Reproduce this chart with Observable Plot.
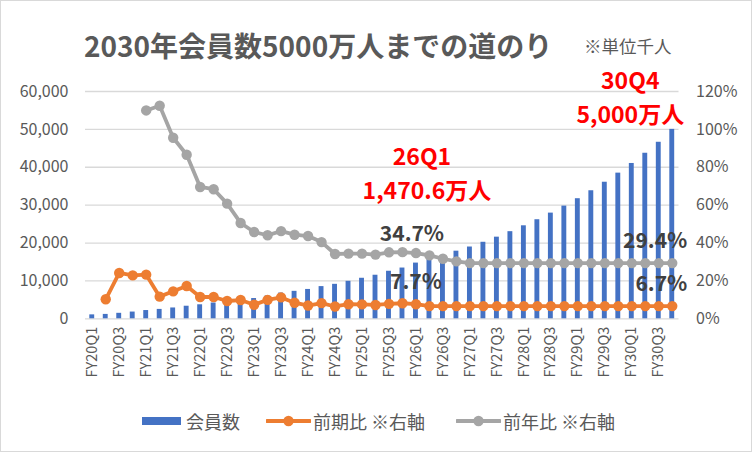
<!DOCTYPE html>
<html>
<head>
<meta charset="utf-8">
<script src="https://cdn.jsdelivr.net/npm/d3@7"></script>
<script src="https://cdn.jsdelivr.net/npm/@observablehq/plot@0.6"></script>
<style>
  html, body { margin: 0; padding: 0; background: #fff; }
  body { font-family: "Noto Sans CJK JP", "Noto Sans", sans-serif; }
  #wrap { position: relative; width: 752px; height: 452px; overflow: hidden; background: #fff; }
  #frame { position: absolute; left: 0; top: 0; width: 752px; height: 452px; box-sizing: border-box; border: 1px solid #d9d9d9; pointer-events: none; }
  #chart { position: absolute; left: 0; top: 0; }
  .title { position: absolute; top: 28px; left: 84px; font-size: 28px; font-weight: bold; color: #595959; line-height: 34px; white-space: nowrap; }
  .unit { position: absolute; top: 33px; left: 584px; font-size: 17.5px; color: #595959; line-height: 26px; white-space: nowrap; }
  .leg { position: absolute; font-size: 18px; color: #595959; line-height: 22px; top: 410px; white-space: nowrap; }
  .key { position: absolute; }
</style>
</head>
<body>
<div id="wrap">
  <div class="title">2030年会員数5000万人までの道のり</div>
  <div class="unit">※単位千人</div>
  <div id="chart"></div>
  <div id="legend"></div>
  <div id="frame"></div>
</div>
<script>
// ---- data (会員数 in 千人, ratios in %) ----
const quarters = [
  "FY20Q1","FY20Q2","FY20Q3","FY20Q4",
  "FY21Q1","FY21Q2","FY21Q3","FY21Q4",
  "FY22Q1","FY22Q2","FY22Q3","FY22Q4",
  "FY23Q1","FY23Q2","FY23Q3","FY23Q4",
  "FY24Q1","FY24Q2","FY24Q3","FY24Q4",
  "FY25Q1","FY25Q2","FY25Q3","FY25Q4",
  "FY26Q1","FY26Q2","FY26Q3","FY26Q4",
  "FY27Q1","FY27Q2","FY27Q3","FY27Q4",
  "FY28Q1","FY28Q2","FY28Q3","FY28Q4",
  "FY29Q1","FY29Q2","FY29Q3","FY29Q4",
  "FY30Q1","FY30Q2","FY30Q3","FY30Q4"
];
const members = [
  1040, 1160, 1450, 1780,
  2180, 2480, 2860, 3320,
  3700, 4170, 4600, 5000,
  5350, 6050, 6800, 7250,
  7750, 8500, 9100, 9900,
  10700, 11500, 12550, 13400,
  14706, 15700, 16750, 17850,
  18950, 20200, 21550, 23000,
  24550, 26150, 27900, 29750,
  31700, 33800, 36050, 38450,
  41000, 43700, 46600, 50000
];
const qoq = [
  null, 10.3, 24.2, 22.9,
  23.3, 11.7, 14.5, 17.3,
  11.5, 11.5, 9.4, 9.9,
  7.4, 10.0, 11.3, 8.5,
  7.0, 8.3, 6.5, 7.7,
  7.6, 7.3, 7.9, 8.2,
  7.7, 6.7, 6.7, 6.7,
  6.7, 6.7, 6.7, 6.7,
  6.7, 6.7, 6.7, 6.7,
  6.7, 6.7, 6.7, 6.7,
  6.7, 6.7, 6.7, 6.7
];
const yoy = [
  null, null, null, null,
  110.0, 112.5, 95.6, 86.6,
  69.6, 68.4, 60.8, 50.6,
  45.8, 44.1, 46.3, 44.4,
  43.7, 40.5, 34.2, 34.4,
  34.4, 33.9, 35.1, 35.2,
  34.7, 33.5, 31.7, 30.3,
  29.4, 29.4, 29.4, 29.4,
  29.4, 29.4, 29.4, 29.4,
  29.4, 29.4, 29.4, 29.4,
  29.4, 29.4, 29.4, 29.4
];
const xTickLabels = [
  "FY20Q1","FY20Q3","FY21Q1","FY21Q3","FY22Q1","FY22Q3","FY23Q1","FY23Q3",
  "FY24Q1","FY24Q3","FY25Q1","FY25Q3","FY26Q1","FY26Q3","FY27Q1","FY27Q3",
  "FY28Q1","FY28Q3","FY29Q1","FY29Q3","FY30Q1","FY30Q3"
];
const leftTicks = [0, 10000, 20000, 30000, 40000, 50000, 60000];
const rightTicks = [0, 20, 40, 60, 80, 100, 120];
const seriesNames = ["会員数", "前期比 ※右軸", "前年比 ※右軸"];
const milestoneQuarter = "FY26Q1";
const milestoneTexts = ["26Q1", "1,470.6万人"];
const goalQuarter = "FY30Q4";
const goalTexts = ["30Q4", "5,000万人"];

// ---- build ----
const K = 500; // right-axis 1% == 500 on the left scale (120% ↔ 60,000)
const rows = quarters.map((q, i) => ({q, members: members[i], qoq: qoq[i], yoy: yoy[i]}));
const qoqRows = rows.filter(d => d.qoq != null);
const yoyRows = rows.filter(d => d.yoy != null);
const milestone = rows.filter(d => d.q === milestoneQuarter);
const goal = rows.filter(d => d.q === goalQuarter);

const BLUE = "#4472C4", ORANGE = "#ED7D31", GRAY = "#A5A5A5", RED = "#FF0000", DARK = "#404040";
const FONT = '"Noto Sans CJK JP", "Noto Sans", sans-serif';

const chart = Plot.plot({
  width: 752,
  height: 452,
  marginTop: 91,
  marginBottom: 133.7,
  marginLeft: 85,
  marginRight: 73.5,
  x: {type: "band", domain: quarters, padding: 0, round: false},
  y: {domain: [0, 60000]},
  style: {fontFamily: FONT, fontSize: "16px", color: "#595959", background: "transparent", overflow: "visible"},
  marks: [
    Plot.gridY(leftTicks, {stroke: "#d9d9d9", strokeOpacity: 1, strokeWidth: 1.3}),
    Plot.axisY(leftTicks, {anchor: "left", tickSize: 0, tickPadding: 17, tickFormat: d3.format(","), label: null, fontSize: 16}),
    Plot.axisY(rightTicks.map(p => p * K), {anchor: "right", tickSize: 0, tickPadding: 17, tickFormat: d => (d / K) + "%", label: null, fontSize: 16}),
    Plot.axisX(xTickLabels, {tickRotate: -90, tickSize: 0, tickPadding: 8, label: null, fontSize: 14.5}),
    Plot.barY(rows, {x: "q", y: "members", fill: BLUE, insetLeft: 4.3, insetRight: 4.3}),
    Plot.line(qoqRows, {x: "q", y: d => d.qoq * K, stroke: ORANGE, strokeWidth: 3.8, curve: "linear"}),
    Plot.dot(qoqRows, {x: "q", y: d => d.qoq * K, r: 5.2, fill: ORANGE, stroke: null}),
    Plot.line(yoyRows, {x: "q", y: d => d.yoy * K, stroke: GRAY, strokeWidth: 3.8, curve: "linear"}),
    Plot.dot(yoyRows, {x: "q", y: d => d.yoy * K, r: 5.2, fill: GRAY, stroke: null}),
    // milestone annotations
    Plot.text(goal, {x: "q", y: "members", text: () => goalTexts[0], dx: -42, dy: -48, fill: RED, fontWeight: "bold", fontSize: 23}),
    Plot.text(goal, {x: "q", y: "members", text: () => goalTexts[1], dx: -42, dy: -14, fill: RED, fontWeight: "bold", fontSize: 23}),
    Plot.text(milestone, {x: "q", y: "members", text: () => milestoneTexts[0], dx: 6, dy: -105, fill: RED, fontWeight: "bold", fontSize: 23}),
    Plot.text(milestone, {x: "q", y: "members", text: () => milestoneTexts[1], dx: 11, dy: -71, fill: RED, fontWeight: "bold", fontSize: 23}),
    // ratio data labels
    Plot.text(milestone, {x: "q", y: d => d.yoy * K, text: d => d.yoy.toFixed(1) + "%", dx: -4, dy: -19, fill: DARK, fontWeight: "bold", fontSize: 21}),
    Plot.text(milestone, {x: "q", y: d => d.qoq * K, text: d => d.qoq.toFixed(1) + "%", dx: 0, dy: -22, fill: DARK, fontWeight: "bold", fontSize: 21}),
    Plot.text(goal, {x: "q", y: d => d.yoy * K, text: d => d.yoy.toFixed(1) + "%", dx: 15, dy: -22, textAnchor: "end", fill: DARK, fontWeight: "bold", fontSize: 21}),
    Plot.text(goal, {x: "q", y: d => d.qoq * K, text: d => d.qoq.toFixed(1) + "%", dx: 15, dy: -22, textAnchor: "end", fill: DARK, fontWeight: "bold", fontSize: 21})
  ]
});
document.getElementById("chart").appendChild(chart);

// ---- legend ----
const legend = document.getElementById("legend");
legend.innerHTML = `
  <div class="key" style="left:142px;top:417px;width:39px;height:8px;background:${BLUE}"></div>
  <div class="leg" style="left:186px">${seriesNames[0]}</div>
  <svg class="key" style="left:266px;top:411px" width="45" height="20">
    <line x1="1" y1="10" x2="44" y2="10" stroke="${ORANGE}" stroke-width="4" stroke-linecap="round"/>
    <circle cx="22.5" cy="10" r="5.2" fill="${ORANGE}"/></svg>
  <div class="leg" style="left:313px">${seriesNames[1]}</div>
  <svg class="key" style="left:456px;top:411px" width="45" height="20">
    <line x1="1" y1="10" x2="44" y2="10" stroke="${GRAY}" stroke-width="4" stroke-linecap="round"/>
    <circle cx="22.5" cy="10" r="5.2" fill="${GRAY}"/></svg>
  <div class="leg" style="left:503px">${seriesNames[2]}</div>
`;
</script>
</body>
</html>
